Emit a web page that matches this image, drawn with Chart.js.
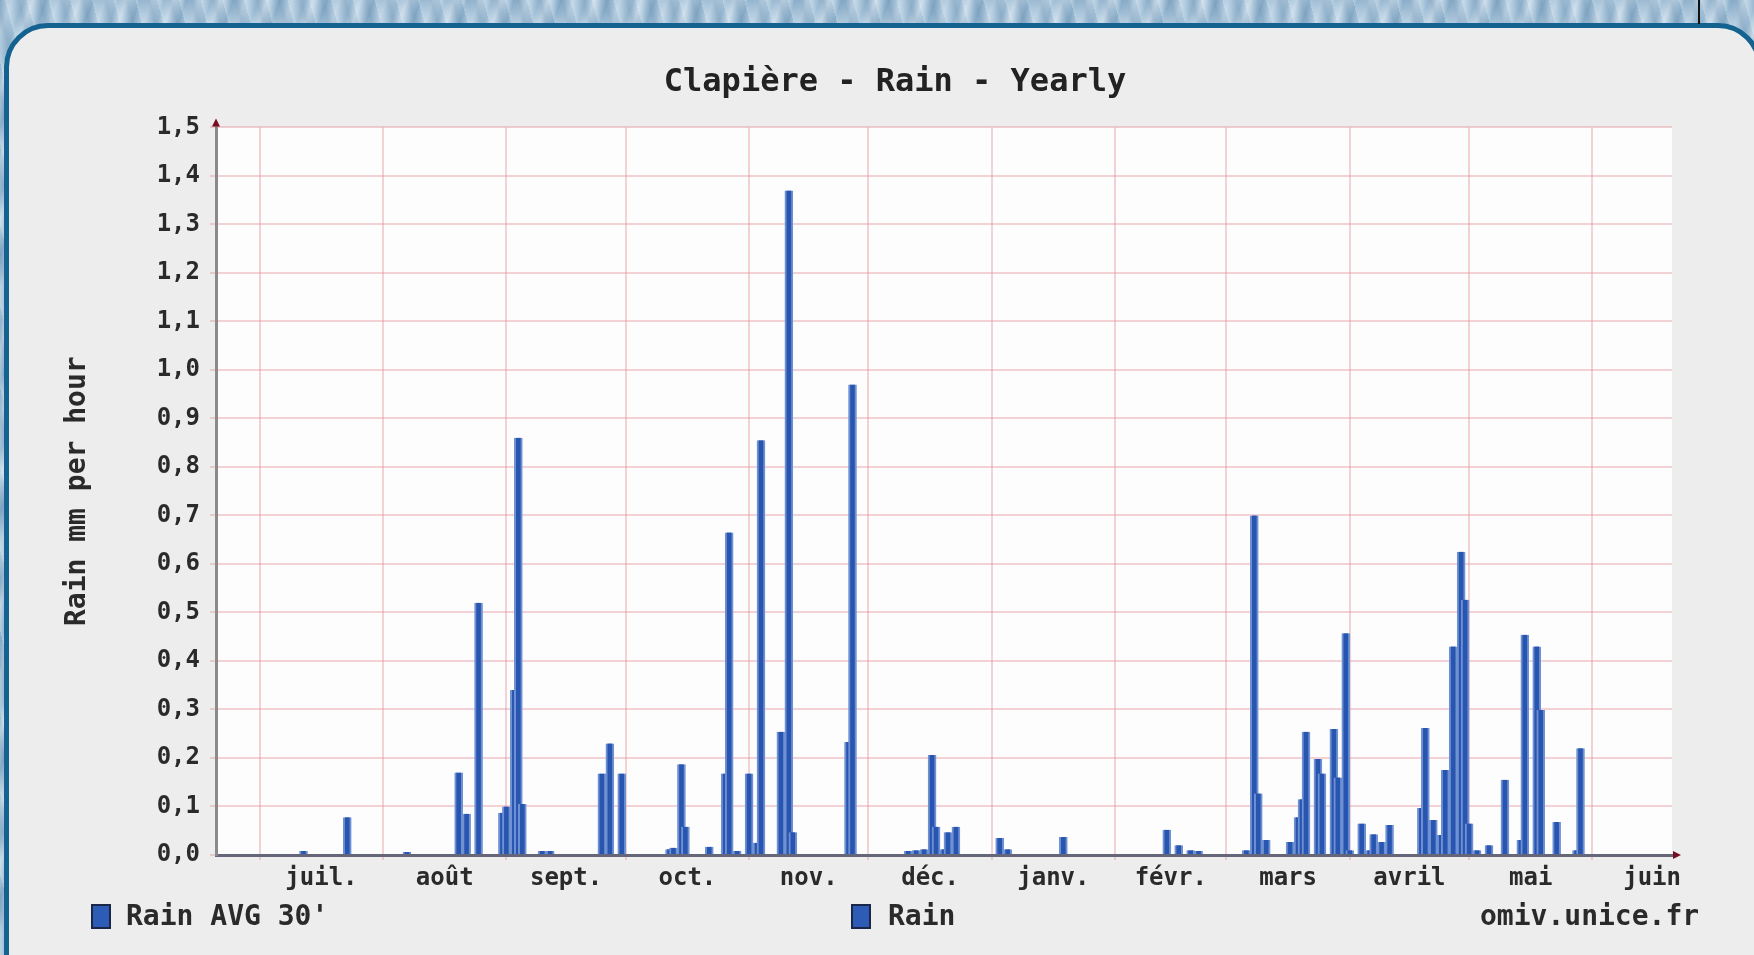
<!DOCTYPE html>
<html>
<head>
<meta charset="utf-8">
<title>Clapière - Rain - Yearly</title>
<script src="https://cdn.jsdelivr.net/npm/chart.js@4/dist/chart.umd.min.js"></script>
<style>
  html, body { margin: 0; padding: 0; }
  body {
    width: 1754px; height: 955px; overflow: hidden; position: relative;
    background:
      repeating-linear-gradient(75deg, rgba(255,255,255,0.25) 0px, rgba(255,255,255,0) 6px, rgba(60,100,140,0.18) 13px, rgba(255,255,255,0) 21px),
      repeating-linear-gradient(110deg, #8fb2cd 0px, #b9d0e2 11px, #9cbcd4 23px, #c6d9e8 31px, #88adc9 44px);
    font-family: "DejaVu Sans Mono", monospace;
  }
  #panel {
    position: absolute; left: 4px; top: 23px; width: 1758px; height: 980px;
    background: #ededed; border: 5px solid #14628f; border-radius: 44px;
    box-sizing: border-box;
  }
  #topline { position: absolute; left: 1698px; top: 0; width: 2px; height: 24px; background: #111; }
  #wrap { position: absolute; left: 0; top: 0; width: 1754px; height: 955px; }
  .leg { position: absolute; top: 898px; font-size: 28px; line-height: 36px; color: #2a2a2a; font-weight: bold; white-space: pre; }
  .box { position: absolute; top: 904px; width: 16px; height: 21px; background: #2c5cb5; border: 2px solid #1b2748; }
</style>
</head>
<body>
<div id="panel"></div>
<div id="topline"></div>
<div id="wrap"><canvas id="chart1" width="1754" height="955"></canvas></div>
<div class="box" style="left:91px"></div>
<div class="leg" style="left:126px">Rain AVG 30'</div>
<div class="box" style="left:851px"></div>
<div class="leg" style="left:888px">Rain</div>
<div class="leg" style="left:1480px">omiv.unice.fr</div>
<script>
// day 0 = 20 juin, one bar per day with rain
const monthStarts = [11, 42, 73, 103, 134, 164, 195, 226, 254, 285, 315, 346];
const monthMids = [26.5, 57.5, 88, 118.5, 149, 179.5, 210.5, 240, 269.5, 300, 330.5, 361];
const monthLabels = ['juil.', 'août', 'sept.', 'oct.', 'nov.', 'déc.', 'janv.', 'févr.', 'mars', 'avril', 'mai', 'juin'];

const rainDays = [
  22, 33, 48, 61, 63, 66, 72, 73, 75, 76, 77, 82, 84,
  97, 99, 102, 114, 115, 117, 118, 124, 128, 129, 131, 134, 136, 137,
  142, 144, 145, 159, 160, 174, 176, 178, 180, 181, 183, 184, 186,
  197, 199, 213, 239, 242, 245, 247,
  259, 261, 262, 264, 270, 272, 273, 274, 277, 278, 281, 282, 284, 285,
  288, 290, 291, 293, 295, 303, 304, 306, 308, 309, 311, 313, 314, 315,
  317, 320, 324, 328, 329, 332, 333, 337, 342, 343
];
const rainValues = [
  0.008, 0.078, 0.006, 0.17, 0.085, 0.52, 0.087, 0.10, 0.34, 0.86, 0.105, 0.008, 0.008,
  0.168, 0.23, 0.168, 0.012, 0.015, 0.187, 0.058, 0.017, 0.168, 0.665, 0.008, 0.168, 0.025, 0.855,
  0.254, 1.37, 0.047, 0.233, 0.97, 0.008, 0.01, 0.012, 0.206, 0.058, 0.012, 0.047, 0.058,
  0.035, 0.012, 0.037, 0.052, 0.02, 0.01, 0.008,
  0.01, 0.70, 0.127, 0.031, 0.027, 0.078, 0.115, 0.254, 0.198, 0.168, 0.26, 0.16, 0.457, 0.01,
  0.065, 0.01, 0.043, 0.027, 0.062, 0.097, 0.262, 0.072, 0.041, 0.175, 0.43, 0.625, 0.526, 0.065,
  0.01, 0.02, 0.155, 0.031, 0.454, 0.43, 0.299, 0.068, 0.01, 0.22
];

const gridPink = 'rgba(225,120,135,0.32)';

const plotBg = {
  id: 'plotBg',
  beforeDraw(chart) {
    const a = chart.chartArea, ctx = chart.ctx;
    ctx.save();
    ctx.fillStyle = '#fdfdfd';
    ctx.fillRect(a.left, a.top, a.right - a.left, a.bottom - a.top);
    ctx.restore();
  },
  afterDraw(chart) {
    const a = chart.chartArea, ctx = chart.ctx;
    ctx.save();
    ctx.fillStyle = '#7a0c22';
    ctx.beginPath();
    ctx.moveTo(a.left - 4, a.top - 1);
    ctx.lineTo(a.left + 4, a.top - 1);
    ctx.lineTo(a.left, a.top - 9);
    ctx.fill();
    ctx.beginPath();
    ctx.moveTo(a.right + 1, a.bottom - 4);
    ctx.lineTo(a.right + 1, a.bottom + 4);
    ctx.lineTo(a.right + 9, a.bottom);
    ctx.fill();
    ctx.restore();
  }
};

const myChart = new Chart(document.getElementById('chart1'), {
  type: 'bar',
  data: {
    datasets: [{
      label: 'Rain',
      data: rainDays.map((d, i) => ({ x: d, y: rainValues[i] })),
      backgroundColor: '#2855b0',
      borderColor: '#6f91d2',
      borderWidth: { left: 2, right: 2, top: 0, bottom: 0 },
      borderSkipped: false,
      barThickness: 8
    }]
  },
  options: {
    responsive: false,
    devicePixelRatio: 1,
    animation: false,
    layout: { padding: { left: 36, right: 0, top: 0, bottom: 0 } },
    plugins: {
      legend: { display: false },
      tooltip: { enabled: false },
      title: {
        display: true,
        text: 'Clapière - Rain - Yearly',
        color: '#222',
        font: { family: 'DejaVu Sans Mono', size: 32, weight: 'bold' },
        padding: { top: 63, bottom: 26 }
      }
    },
    scales: {
      x: {
        type: 'linear',
        bounds: 'data',
        offset: false,
        min: 0,
        max: 366,
        afterBuildTicks(scale) {
          scale.ticks = monthStarts.concat(monthMids).sort((a, b) => a - b).map(v => ({ value: v }));
        },
        afterFit(scale) { scale.height = 100; },
        grid: {
          offset: false,
          color: ctx => monthStarts.includes(ctx.tick && ctx.tick.value) ? gridPink : 'rgba(0,0,0,0)',
          lineWidth: 2,
          tickLength: 5
        },
        border: { color: '#66667a', width: 3 },
        ticks: {
          autoSkip: false,
          maxRotation: 0,
          padding: 4,
          color: '#2a2a2a',
          font: { family: 'DejaVu Sans Mono', size: 24, weight: 'bold' },
          callback: v => {
            const i = monthMids.indexOf(v);
            return i >= 0 ? monthLabels[i] : '';
          }
        }
      },
      y: {
        min: 0,
        max: 1.5,
        afterFit(scale) { scale.width = 180; },
        grid: { color: gridPink, lineWidth: 2, tickLength: 6 },
        border: { color: '#8a8a8a', width: 3 },
        ticks: {
          stepSize: 0.1,
          padding: 10,
          color: '#2a2a2a',
          font: { family: 'DejaVu Sans Mono', size: 24, weight: 'bold' },
          callback: v => v.toFixed(1).replace('.', ',')
        },
        title: {
          display: true,
          text: 'Rain mm per hour',
          color: '#2a2a2a',
          font: { family: 'DejaVu Sans Mono', size: 28, weight: 'bold' },
          padding: { top: 25, bottom: 0 }
        }
      },
      // empty right-hand box: keeps the plot edge at the same place
      yRight: {
        position: 'right',
        min: 0,
        max: 1.5,
        afterFit(scale) { scale.width = 82; },
        grid: { display: false },
        border: { display: false },
        ticks: { display: false }
      }
    }
  },
  plugins: [plotBg]
});
</script>
</body>
</html>
